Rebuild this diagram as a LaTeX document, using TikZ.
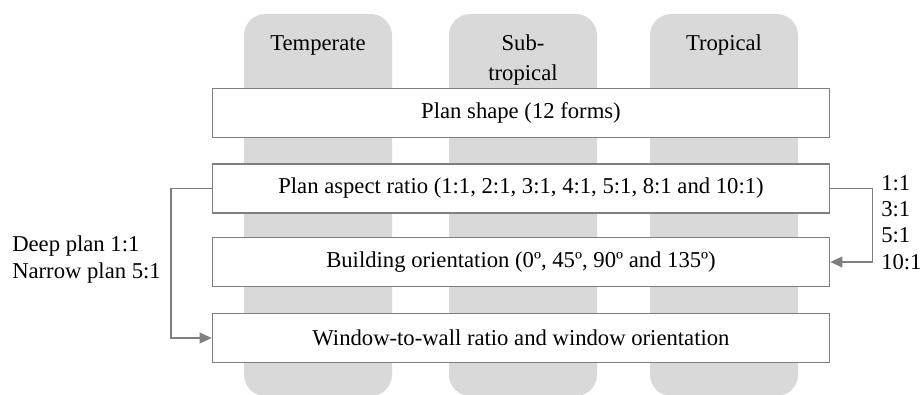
\documentclass[tikz,border=0pt]{standalone}
\usepackage{fontspec}
\setmainfont{Liberation Serif}
\usetikzlibrary{arrows.meta}
\definecolor{colgray}{HTML}{D9D9D9}
\definecolor{linegray}{HTML}{7F7F7F}
\begin{document}
\begin{tikzpicture}[x=0.75pt,y=-0.75pt,
  column/.style={fill=colgray, draw=none, rounded corners=16pt},
  head/.style={font=\fontsize{17}{22}\selectfont, align=center, inner sep=0pt},
  stepbox/.style={draw=linegray, line width=1.2pt, fill=white, minimum width=462.75pt, minimum height=37pt, inner sep=0pt, font=\fontsize{17}{20}\selectfont},
  conn/.style={draw=linegray, line width=1.2pt, -{Triangle[length=9pt,width=8pt]}},
  lab/.style={font=\fontsize{17}{20}\selectfont, align=left, inner sep=0pt, anchor=west}
]
\useasboundingbox (0,0) rectangle (922,394);
% columns
\fill[column] (244,14) rectangle (392,396);
\fill[column] (449,14) rectangle (597,396);
\fill[column] (650,14) rectangle (798,396);
\node[head] (h1) at (318,45) {Temperate};
\node[head] (h2) at (523,60) {Sub-\\tropical};
\node[head] (h3) at (724,45) {Tropical};
% boxes
\node[stepbox] (b1) at (521,113) {Plan shape (12 forms)};
\node[stepbox] (b2) at (521,188.5) {Plan aspect ratio (1:1, 2:1, 3:1, 4:1, 5:1, 8:1 and 10:1)};
\node[stepbox] (b3) at (521,262) {Building orientation (0º, 45º, 90º and 135º)};
\node[stepbox] (b4) at (521,338) {Window-to-wall ratio and window orientation};
% connectors
\draw[conn] (b2.west) -- ++(-41,0) |- (b4.west);
\draw[conn] (b2.east) -- ++(42,0) |- (b3.east);
% labels
\node[lab, font=\fontsize{17}{20.25}\selectfont] (left) at (12,259.5) {Deep plan 1:1\\Narrow plan 5:1};
\node[lab, font=\fontsize{17}{19.7}\selectfont] (right) at (881,222.5) {1:1\\3:1\\5:1\\10:1};
\end{tikzpicture}
\end{document}
